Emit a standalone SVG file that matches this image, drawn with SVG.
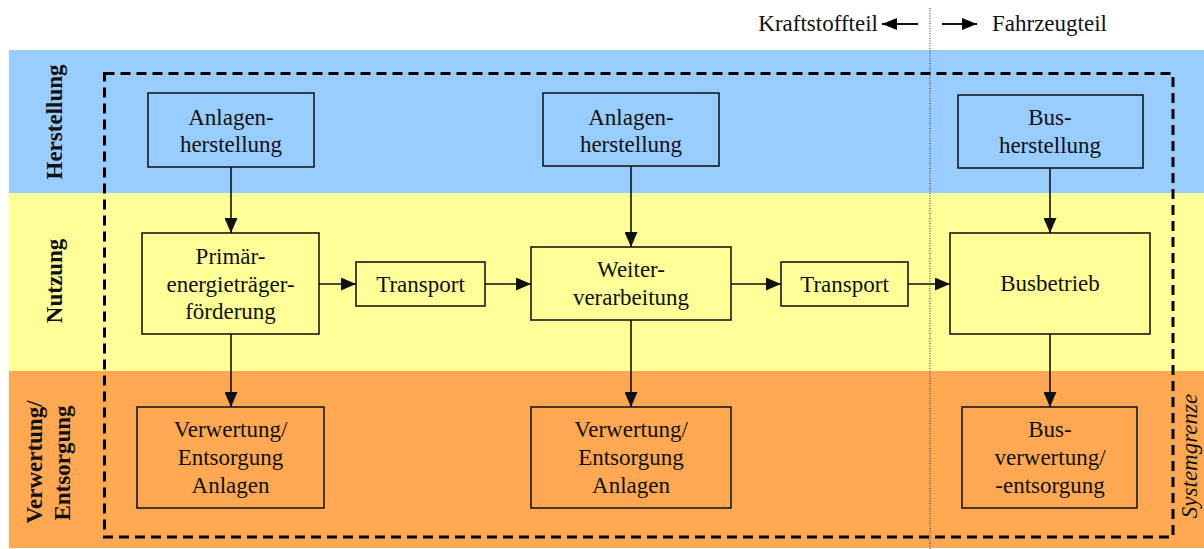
<svg xmlns="http://www.w3.org/2000/svg" width="1204" height="549" viewBox="0 0 1204 549">
<style>
  text { font-family: "Liberation Serif", "Times New Roman", serif; font-size: 23px; fill: #111; }
  .c { text-anchor: middle; }
  .band-label { font-weight: bold; text-anchor: middle; }
  .sys { font-style: italic; text-anchor: middle; }
  .box rect { stroke: #1a1a1a; stroke-width: 1.6; }
  .blue { fill: #99CCFF; }
  .yellow { fill: #FFFF99; }
  .orange { fill: #FFA853; }
  .conn line { stroke: #111; stroke-width: 1.6; marker-end: url(#ah); }
  .small line { stroke: #111; stroke-width: 1.8; marker-end: url(#ah2); }
</style>
<defs>
  <marker id="ah" viewBox="0 0 15 13" refX="15" refY="6.5" markerWidth="15" markerHeight="13" markerUnits="userSpaceOnUse" orient="auto">
    <path d="M0,0 L15,6.5 L0,13 Z" fill="#111"/>
  </marker>
  <marker id="ah2" viewBox="0 0 15 12" refX="15" refY="6" markerWidth="15" markerHeight="12" markerUnits="userSpaceOnUse" orient="auto">
    <path d="M0,0 L15,6 L0,12 Z" fill="#000"/>
  </marker>
</defs>
<rect width="1204" height="549" fill="#ffffff"/>
<g id="bands">
  <rect class="blue" x="9" y="50" width="1195" height="143"/>
  <rect class="yellow" x="9" y="193" width="1195" height="178"/>
  <rect class="orange" x="9" y="371" width="1195" height="177"/>
</g>
<g id="band-labels">
  <text class="band-label" transform="translate(62,122) rotate(-90)">Herstellung</text>
  <text class="band-label" transform="translate(62,281) rotate(-90)">Nutzung</text>
  <text class="band-label" transform="translate(42,462) rotate(-90)">Verwertung/</text>
  <text class="band-label" transform="translate(70,463) rotate(-90)">Entsorgung</text>
</g>
<g id="boundary">
  <line x1="930" y1="8" x2="930" y2="549" stroke="#333" stroke-width="1" stroke-dasharray="1,1.5"/>
  <rect x="104.5" y="73.5" width="1068.5" height="463.5" fill="none" stroke="#000" stroke-width="3" stroke-dasharray="10,6"/>
  <text class="sys" transform="translate(1197,456) rotate(-90)">Systemgrenze</text>
</g>
<g id="legend" class="small">
  <text x="878" y="31" text-anchor="end">Kraftstoffteil</text>
  <line x1="918" y1="24" x2="882" y2="24"/>
  <line x1="942" y1="24" x2="977" y2="24"/>
  <text x="992" y="31">Fahrzeugteil</text>
</g>
<g id="n-anlagen1" class="box">
  <rect class="blue" x="148" y="93" width="166" height="74"/>
  <text class="c" x="231" y="125">Anlagen-</text>
  <text class="c" x="231" y="152">herstellung</text>
</g>
<g id="n-anlagen2" class="box">
  <rect class="blue" x="543" y="93" width="176" height="73"/>
  <text class="c" x="631" y="125">Anlagen-</text>
  <text class="c" x="631" y="152">herstellung</text>
</g>
<g id="n-bus-herstellung" class="box">
  <rect class="blue" x="958" y="95" width="185" height="73"/>
  <text class="c" x="1050" y="125">Bus-</text>
  <text class="c" x="1050" y="153">herstellung</text>
</g>
<g id="n-primaer" class="box">
  <rect class="yellow" x="142" y="233" width="177" height="101"/>
  <text class="c" x="230.5" y="264">Primär-</text>
  <text class="c" x="230.5" y="292">energieträger-</text>
  <text class="c" x="230.5" y="319">förderung</text>
</g>
<g id="n-transport1" class="box">
  <rect class="yellow" x="356" y="262" width="129" height="44"/>
  <text class="c" x="420.5" y="292">Transport</text>
</g>
<g id="n-weiter" class="box">
  <rect class="yellow" x="531" y="247" width="200" height="73"/>
  <text class="c" x="631" y="277">Weiter-</text>
  <text class="c" x="631" y="305">verarbeitung</text>
</g>
<g id="n-transport2" class="box">
  <rect class="yellow" x="781" y="262" width="127" height="44"/>
  <text class="c" x="844.5" y="292">Transport</text>
</g>
<g id="n-busbetrieb" class="box">
  <rect class="yellow" x="950" y="233" width="200" height="101"/>
  <text class="c" x="1050" y="291">Busbetrieb</text>
</g>
<g id="n-verwertung1" class="box">
  <rect class="orange" x="137" y="407" width="187" height="101"/>
  <text class="c" x="230.5" y="437">Verwertung/</text>
  <text class="c" x="230.5" y="465">Entsorgung</text>
  <text class="c" x="230.5" y="493">Anlagen</text>
</g>
<g id="n-verwertung2" class="box">
  <rect class="orange" x="531" y="407" width="200" height="101"/>
  <text class="c" x="631" y="437">Verwertung/</text>
  <text class="c" x="631" y="465">Entsorgung</text>
  <text class="c" x="631" y="493">Anlagen</text>
</g>
<g id="n-busverwertung" class="box">
  <rect class="orange" x="962" y="407" width="175" height="101"/>
  <text class="c" x="1050" y="437">Bus-</text>
  <text class="c" x="1050" y="465">verwertung/</text>
  <text class="c" x="1050" y="493">-entsorgung</text>
</g>
<g id="connectors" class="conn">
  <line x1="231" y1="167" x2="231" y2="233"/>
  <line x1="631" y1="166" x2="631" y2="247"/>
  <line x1="1050" y1="168" x2="1050" y2="233"/>
  <line x1="231" y1="334" x2="231" y2="407"/>
  <line x1="631" y1="320" x2="631" y2="407"/>
  <line x1="1050" y1="334" x2="1050" y2="407"/>
  <line x1="319" y1="284" x2="356" y2="284"/>
  <line x1="485" y1="284" x2="531" y2="284"/>
  <line x1="731" y1="284" x2="781" y2="284"/>
  <line x1="908" y1="284" x2="950" y2="284"/>
</g>
</svg>
